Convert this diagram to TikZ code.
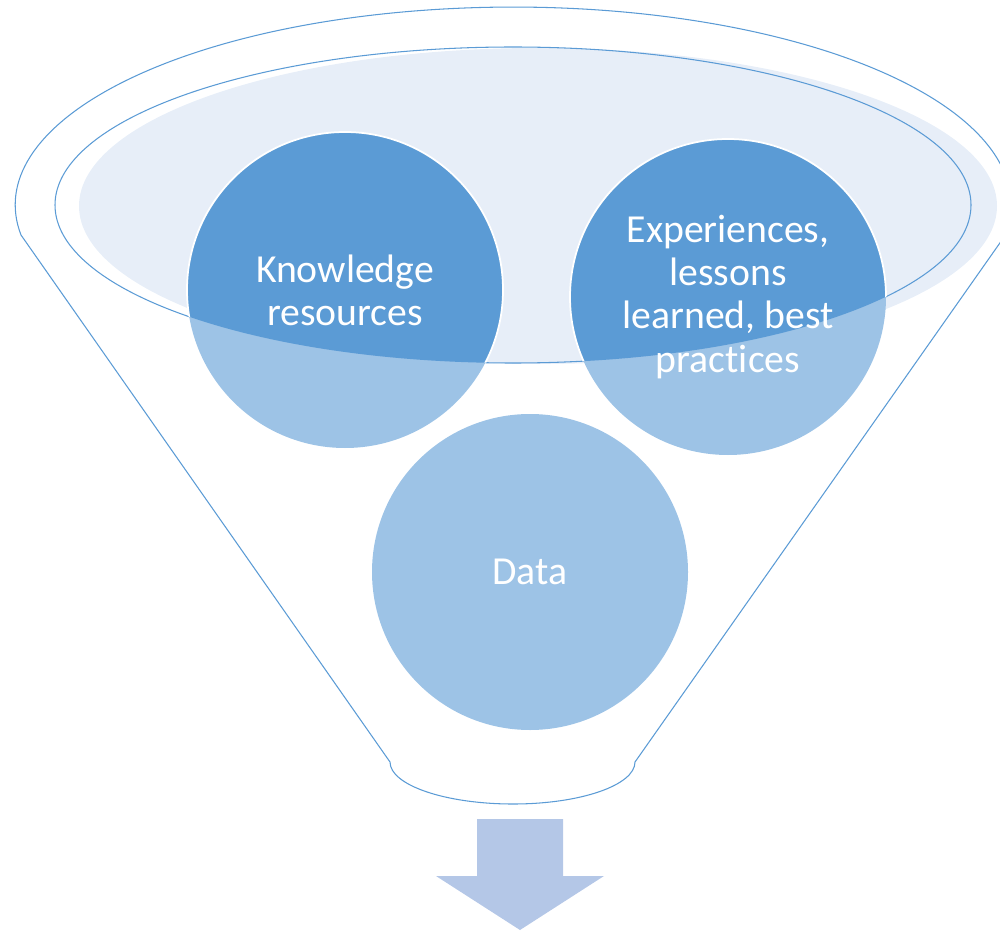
\documentclass[tikz,border=0pt]{standalone}
\usepackage{fontspec}
\setmainfont[Ligatures=CommonOff]{Carlito}
\usetikzlibrary{backgrounds}
\definecolor{funnelblue}{HTML}{5B9BD5}
\definecolor{bubblelight}{HTML}{9DC3E6}
\definecolor{rimfill}{HTML}{E7EEF8}
\definecolor{arrowblue}{HTML}{B4C7E7}
\begin{document}
\begin{tikzpicture}[x=0.02cm,y=-0.02cm,
        outline/.style={funnelblue,line width=0.6pt},
        bubble/.style={circle,minimum size=6.32cm,inner sep=0pt,align=center,text=white,font=\fontsize{22.6}{24.5}\selectfont}]
            \clip (0,0) rectangle (1000,932);
            \node[bubble] (know) at (345,290) {Knowledge\\resources};
            \node[bubble] (exp) at (728,297) {Experiences,\\lessons\\learned, best\\practices};
            \node[bubble] (data) at (530,572) {Data};
            \begin{scope}[on background layer]
                \fill[rimfill] (538,206) ellipse (459 and 158);
                \draw[outline] (21,235) arc[start angle=171.3,end angle=368.7,x radius=498,y radius=198] -- (635,762)
                    .. controls (635,785) and (581,804) .. (513,804) .. controls (445,804) and (390,785) .. (390,762) -- cycle;
                \draw[outline] (513,205) ellipse (458 and 158);
                \foreach \n in {know,exp,data} {
                    \fill[bubblelight] (\n.center) circle (158);
                }
                \begin{scope}
                    \clip (513,205) ellipse (458 and 158);
                    \foreach \n in {know,exp} {
                        \filldraw[fill=funnelblue,draw=white,line width=1pt] (\n.center) circle (158);
                    }
                \end{scope}
            \end{scope}
            \fill[arrowblue] (477,819) -- (563,819) -- (563,876) -- (604,876) -- (520,930) -- (436,876) -- (477,876) -- cycle;
        \end{tikzpicture}
\end{document}
